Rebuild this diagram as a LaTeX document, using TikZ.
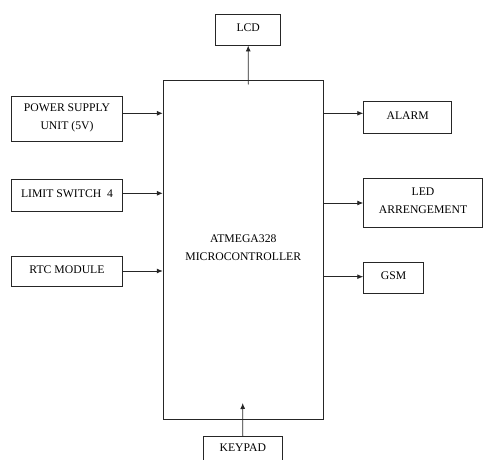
\documentclass[tikz,border=0pt]{standalone}
\usepackage{fontspec}
\setmainfont{Liberation Serif}
\usetikzlibrary{arrows.meta}
\begin{document}
\begin{tikzpicture}[x=1pt,y=-1pt,
  blk/.style={draw=black!85,line width=0.9pt,rectangle,inner sep=0pt,align=center,text depth=4pt,
    font=\fontsize{11.7}{17.5}\selectfont},
  conn/.style={draw=black!85,line width=0.9pt,-{Latex[length=6pt,width=5pt]}}]
\clip (0,0) rectangle (483,460);
\node[blk,minimum width=160pt,minimum height=339pt] (main) at (243.3,249.8) {ATMEGA328\\MICROCONTROLLER};
\node[blk,minimum width=65pt,minimum height=31pt] (lcd) at (248.2,29.5) {LCD};
\node[blk,minimum width=110.6pt,minimum height=45pt] (power) at (67,118.5) {POWER SUPPLY\\UNIT (5V)};
\node[blk,minimum width=110.6pt,minimum height=31.7pt] (limit) at (67,195.2) {LIMIT SWITCH\ \ 4};
\node[blk,minimum width=110.6pt,minimum height=29.7pt] (rtc) at (67,271.8) {RTC MODULE};
\node[blk,minimum width=88pt,minimum height=32pt] (alarm) at (407.7,117.3) {ALARM};
\node[blk,minimum width=118.6pt,minimum height=49pt] (led) at (423,202.8) {LED\\ARRENGEMENT};
\node[blk,minimum width=59.6pt,minimum height=30.6pt] (gsm) at (393.5,278) {GSM};
\node[blk,minimum width=79pt,minimum height=26.6pt] (keypad) at (242.8,450) {KEYPAD};
\coordinate (lcdfoot) at (248.3,84.3);
\coordinate (keytip) at (242.7,403);
\draw[conn] (lcdfoot) -- (lcd.south);
\draw[conn] (keypad.north) -- (keytip);
\draw[conn] (power.east |- 0,113.3) -- (main.west |- 0,113.3);
\draw[conn] (limit.east |- 0,193.3) -- (main.west |- 0,193.3);
\draw[conn] (rtc.east |- 0,271) -- (main.west |- 0,271);
\draw[conn] (main.east |- 0,113.3) -- (alarm.west |- 0,113.3);
\draw[conn] (main.east |- 0,203) -- (led.west |- 0,203);
\draw[conn] (main.east |- 0,276.7) -- (gsm.west |- 0,276.7);
\end{tikzpicture}
\end{document}
